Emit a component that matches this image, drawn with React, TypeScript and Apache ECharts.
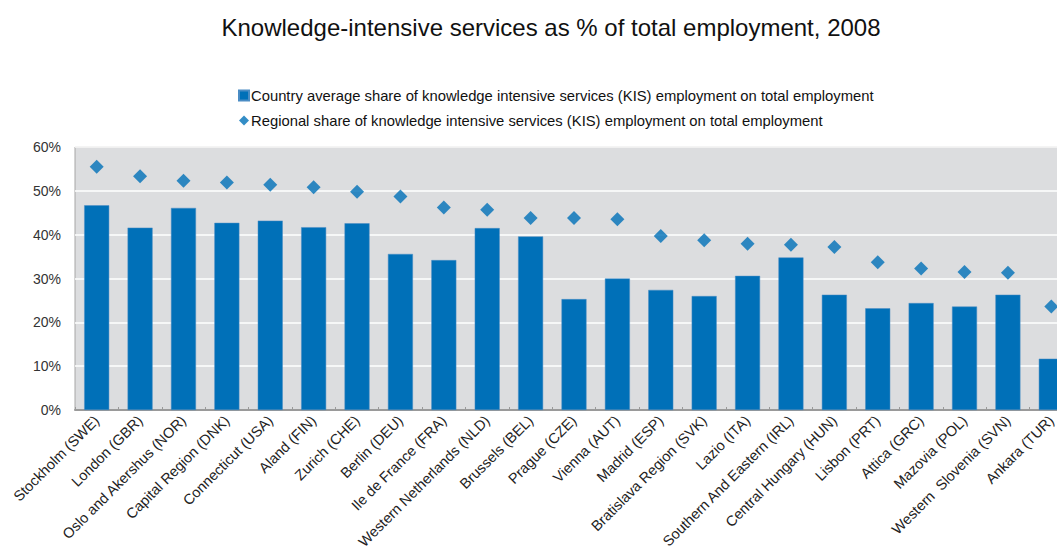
import React, { useEffect, useRef } from "react";
import * as echarts from "echarts";

const categories = [
  "Stockholm (SWE)", "London (GBR)", "Oslo and Akershus (NOR)", "Capital Region (DNK)",
  "Connecticut (USA)", "Aland (FIN)", "Zurich (CHE)", "Berlin (DEU)", "Ile de France (FRA)",
  "Western Netherlands (NLD)", "Brussels (BEL)", "Prague (CZE)", "Vienna (AUT)", "Madrid (ESP)",
  "Bratislava Region (SVK)", "Lazio (ITA)", "Southern And Eastern (IRL)", "Central Hungary (HUN)",
  "Lisbon (PRT)", "Attica (GRC)", "Mazovia (POL)", "Western  Slovenia (SVN)", "Ankara (TUR)",
];

const countryAverage = [46.7, 41.6, 46.1, 42.7, 43.2, 41.7, 42.6, 35.6, 34.2, 41.5, 39.6, 25.3, 30.0, 27.4, 26.0, 30.6, 34.8, 26.3, 23.2, 24.4, 23.6, 26.3, 11.7];
const regionalShare = [55.5, 53.3, 52.3, 51.9, 51.4, 50.8, 49.8, 48.7, 46.2, 45.7, 43.8, 43.8, 43.5, 39.7, 38.7, 37.9, 37.7, 37.2, 33.7, 32.3, 31.5, 31.3, 23.6];

const seriesNames = [
  "Country average share of knowledge intensive services (KIS) employment on total employment",
  "Regional share of knowledge intensive services (KIS) employment on total employment",
];

const title = "Knowledge-intensive services as % of total employment, 2008";

const FONT = "'Liberation Sans', Arial, sans-serif";
const BLUE = "#0070B8";

export default function App() {
  const ref = useRef<HTMLDivElement>(null);
  useEffect(() => {
    if (!ref.current) return;
    const chart = echarts.init(ref.current, null, { renderer: "svg" });
    chart.setOption({
      animation: false,
      backgroundColor: "#ffffff",
      textStyle: { fontFamily: FONT },
      title: {
        text: title,
        left: 546,
        textAlign: "center",
        top: 10,
        textStyle: { fontFamily: FONT, fontSize: 24, fontWeight: "normal", color: "#111" },
      },
      legend: {
        orient: "vertical",
        left: 233,
        top: 83,
        itemGap: 10,
        itemWidth: 10,
        itemHeight: 10,
        textStyle: { fontFamily: FONT, fontSize: 14.8, color: "#111", padding: [0, 0, 0, -3] },
        data: [
          { name: seriesNames[0], icon: "rect" },
          { name: seriesNames[1], icon: "diamond" },
        ],
      },
      grid: {
        left: 75,
        right: 0,
        top: 147,
        bottom: 145,
        show: true,
        backgroundColor: "#DCDDDF",
        borderColor: "#A6A6A6",
        borderWidth: 1,
      },
      xAxis: {
        type: "category",
        data: categories,
        axisLine: { show: true, lineStyle: { color: "#9A9A9A", width: 2 } },
        axisTick: { show: true, inside: true, length: 3, lineStyle: { color: "#9A9A9A" } },
        axisLabel: {
          rotate: 45,
          interval: 0,
          margin: 8,
          fontFamily: FONT,
          fontSize: 14.5,
          color: "#222",
        },
      },
      yAxis: {
        type: "value",
        min: 0,
        max: 60,
        interval: 10,
        axisLine: { show: false },
        axisTick: { show: false },
        axisLabel: {
          formatter: "{value}%",
          margin: 14,
          fontFamily: FONT,
          fontSize: 14,
          color: "#333",
        },
        splitLine: { show: true, lineStyle: { color: "#ffffff", width: 1.5 } },
      },
      series: [
        {
          name: seriesNames[0],
          type: "bar",
          data: countryAverage,
          barWidth: 25,
          itemStyle: { color: BLUE, borderColor: "#4A8CC4", borderWidth: 0.5 },
        },
        {
          name: seriesNames[1],
          type: "scatter",
          data: regionalShare,
          symbol: "diamond",
          symbolSize: 14,
          itemStyle: { color: BLUE },
        },
      ],
    });
    return () => chart.dispose();
  }, []);
  return (
    <div style={{ position: "fixed", left: 0, top: 0, width: 1057, height: 555, overflow: "hidden" }}>
      <div ref={ref} style={{ width: 1073, height: 555 }} />
    </div>
  );
}
